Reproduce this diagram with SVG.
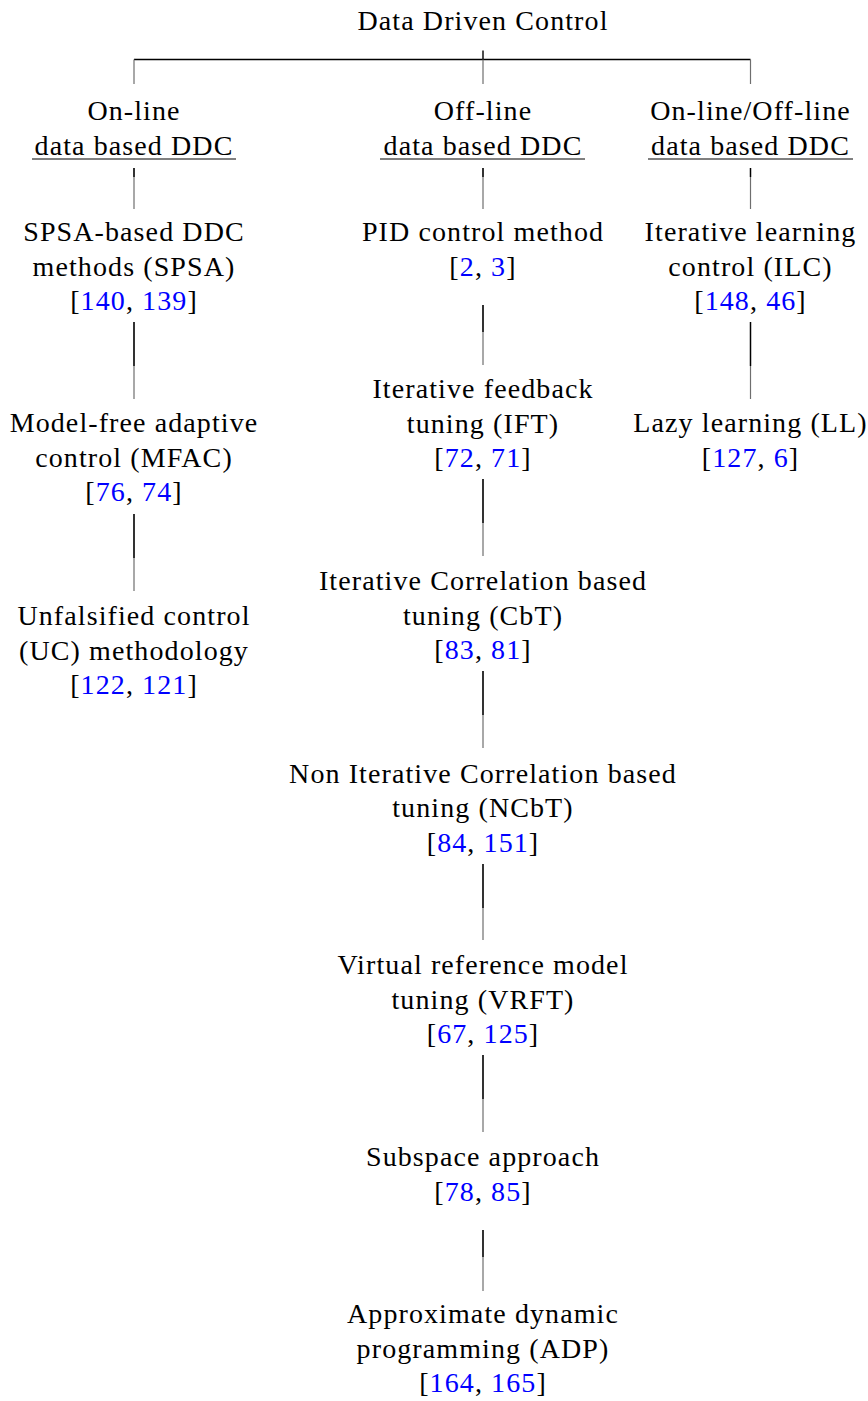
<svg xmlns="http://www.w3.org/2000/svg" width="868" height="1401" viewBox="0 0 868 1401">
<style>
.t{font-family:"Liberation Serif","Times New Roman",serif;font-size:28px;letter-spacing:1.1px;text-anchor:middle;fill:#000}
.c{fill:#0000ff}
.dk{stroke:#000;stroke-width:1.4;fill:none}
.gy{stroke:#6e6e6e;stroke-width:1.2;fill:none}
.ul{stroke:#000;stroke-width:1}
</style>
<rect width="868" height="1401" fill="#fff"/>
<g id="connectors">
  <line class="dk" x1="134" y1="59.5" x2="750.5" y2="59.5"/>
  <line class="dk" x1="483" y1="50.5" x2="483" y2="59.5"/>
  <line class="gy" x1="134" y1="59.5" x2="134" y2="84"/>
  <line class="gy" x1="483" y1="59.5" x2="483" y2="84"/>
  <line class="gy" x1="750.5" y1="59.5" x2="750.5" y2="84"/>
  <line class="gy" x1="134" y1="168" x2="134" y2="209"/><line class="dk" x1="134" y1="168" x2="134" y2="177"/>
  <line class="gy" x1="134" y1="322" x2="134" y2="399"/><line class="dk" x1="134" y1="322" x2="134" y2="366"/>
  <line class="gy" x1="134" y1="514" x2="134" y2="591"/><line class="dk" x1="134" y1="514" x2="134" y2="558"/>
  <line class="gy" x1="483" y1="168" x2="483" y2="209"/><line class="dk" x1="483" y1="168" x2="483" y2="177"/>
  <line class="gy" x1="483" y1="305" x2="483" y2="365"/><line class="dk" x1="483" y1="305" x2="483" y2="332"/>
  <line class="gy" x1="483" y1="479" x2="483" y2="556"/><line class="dk" x1="483" y1="479" x2="483" y2="523"/>
  <line class="gy" x1="483" y1="671" x2="483" y2="748"/><line class="dk" x1="483" y1="671" x2="483" y2="715"/>
  <line class="gy" x1="483" y1="864" x2="483" y2="940"/><line class="dk" x1="483" y1="864" x2="483" y2="908"/>
  <line class="gy" x1="483" y1="1055" x2="483" y2="1132"/><line class="dk" x1="483" y1="1055" x2="483" y2="1099"/>
  <line class="gy" x1="483" y1="1230" x2="483" y2="1291"/><line class="dk" x1="483" y1="1230" x2="483" y2="1257"/>
  <line class="gy" x1="750.5" y1="168" x2="750.5" y2="209"/><line class="dk" x1="750.5" y1="168" x2="750.5" y2="177"/>
  <line class="gy" x1="750.5" y1="322" x2="750.5" y2="399"/><line class="dk" x1="750.5" y1="322" x2="750.5" y2="366"/>
</g>
<g id="root"><text class="t" x="483" y="30">Data Driven Control</text></g>
<g id="online">
  <text class="t" x="134" y="120">On-line</text>
  <text class="t" x="134" y="155">data based DDC</text>
  <line class="ul" x1="32" y1="159" x2="236" y2="159"/>
</g>
<g id="offline">
  <text class="t" x="483" y="120">Off-line</text>
  <text class="t" x="483" y="155">data based DDC</text>
  <line class="ul" x1="380" y1="159" x2="585" y2="159"/>
</g>
<g id="onoffline">
  <text class="t" x="750.5" y="120">On-line/Off-line</text>
  <text class="t" x="750.5" y="155">data based DDC</text>
  <line class="ul" x1="648" y1="159" x2="853" y2="159"/>
</g>
<g id="spsa">
  <text class="t" x="134" y="241">SPSA-based DDC</text>
  <text class="t" x="134" y="275.5">methods (SPSA)</text>
  <text class="t" x="134" y="310">[<tspan class="c">140</tspan>, <tspan class="c">139</tspan>]</text>
</g>
<g id="mfac">
  <text class="t" x="134" y="432">Model-free adaptive</text>
  <text class="t" x="134" y="466.5">control (MFAC)</text>
  <text class="t" x="134" y="501">[<tspan class="c">76</tspan>, <tspan class="c">74</tspan>]</text>
</g>
<g id="uc">
  <text class="t" x="134" y="625">Unfalsified control</text>
  <text class="t" x="134" y="659.5">(UC) methodology</text>
  <text class="t" x="134" y="694">[<tspan class="c">122</tspan>, <tspan class="c">121</tspan>]</text>
</g>
<g id="pid">
  <text class="t" x="483" y="241">PID control method</text>
  <text class="t" x="483" y="275.5">[<tspan class="c">2</tspan>, <tspan class="c">3</tspan>]</text>
</g>
<g id="ift">
  <text class="t" x="483" y="398">Iterative feedback</text>
  <text class="t" x="483" y="432.5">tuning (IFT)</text>
  <text class="t" x="483" y="467">[<tspan class="c">72</tspan>, <tspan class="c">71</tspan>]</text>
</g>
<g id="cbt">
  <text class="t" x="483" y="590">Iterative Correlation based</text>
  <text class="t" x="483" y="624.5">tuning (CbT)</text>
  <text class="t" x="483" y="659">[<tspan class="c">83</tspan>, <tspan class="c">81</tspan>]</text>
</g>
<g id="ncbt">
  <text class="t" x="483" y="782.5">Non Iterative Correlation based</text>
  <text class="t" x="483" y="817">tuning (NCbT)</text>
  <text class="t" x="483" y="851.5">[<tspan class="c">84</tspan>, <tspan class="c">151</tspan>]</text>
</g>
<g id="vrft">
  <text class="t" x="483" y="974">Virtual reference model</text>
  <text class="t" x="483" y="1008.5">tuning (VRFT)</text>
  <text class="t" x="483" y="1043">[<tspan class="c">67</tspan>, <tspan class="c">125</tspan>]</text>
</g>
<g id="subspace">
  <text class="t" x="483" y="1166">Subspace approach</text>
  <text class="t" x="483" y="1200.5">[<tspan class="c">78</tspan>, <tspan class="c">85</tspan>]</text>
</g>
<g id="adp">
  <text class="t" x="483" y="1323">Approximate dynamic</text>
  <text class="t" x="483" y="1357.5">programming (ADP)</text>
  <text class="t" x="483" y="1392">[<tspan class="c">164</tspan>, <tspan class="c">165</tspan>]</text>
</g>
<g id="ilc">
  <text class="t" x="750.5" y="241">Iterative learning</text>
  <text class="t" x="750.5" y="275.5">control (ILC)</text>
  <text class="t" x="750.5" y="310">[<tspan class="c">148</tspan>, <tspan class="c">46</tspan>]</text>
</g>
<g id="ll">
  <text class="t" x="750.5" y="432">Lazy learning (LL)</text>
  <text class="t" x="750.5" y="466.5">[<tspan class="c">127</tspan>, <tspan class="c">6</tspan>]</text>
</g>
</svg>
